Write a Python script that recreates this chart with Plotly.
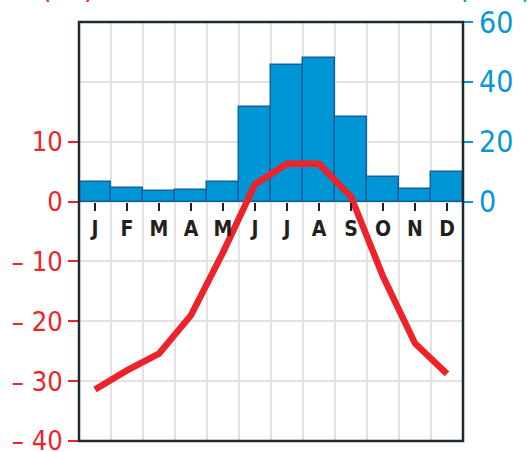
import plotly.graph_objects as go

months = ['J', 'F', 'M', 'A', 'M', 'J', 'J', 'A', 'S', 'O', 'N', 'D']
month_pos = list(range(1, 13))

# monthly precipitation (mm) and mean temperature (°C)
precip_mm = [6.5, 4.5, 3.6, 4.0, 6.4, 31.6, 45.6, 47.9, 28.2, 8.2, 4.2, 9.8]
temp_c = [-31.4, -28.2, -25.4, -19.0, -8.5, 2.9, 6.3, 6.3, 0.8, -12.5, -23.7, -28.8]

temp_ticks = [-40, -30, -20, -10, 0, 10]
temp_ticktext = ['– 40', '– 30', '– 20', '– 10', '0', '10']
precip_ticks = [0, 20, 40, 60]

RED = '#ee2229'
BLUE = '#0a96d8'
DARK = '#231f20'
GRID = '#e2e2e2'
FONT = 'DejaVu Sans Condensed, Liberation Sans Narrow, Arial Narrow, sans-serif'

T_MIN, T_MAX = -40, 30
P_MIN, P_MAX = -80, 60

fig = go.Figure()

# precipitation bars on the base (right-hand) axis
fig.add_trace(go.Bar(
    x=month_pos, y=precip_mm,
    width=1,
    marker=dict(color='#0096d6', line=dict(color='#13609f', width=1.5)),
    yaxis='y',
    showlegend=False,
))

# temperature line on the overlaying (left-hand) axis
fig.add_trace(go.Scatter(
    x=month_pos, y=temp_c,
    mode='lines',
    line=dict(color=RED, width=6.5),
    yaxis='y2',
    showlegend=False,
))

zero_pos = (0 - T_MIN) / (T_MAX - T_MIN)

fig.update_layout(
    width=531, height=452,
    margin=dict(l=79, r=68, t=22, b=11, autoexpand=False),
    paper_bgcolor='white',
    plot_bgcolor='white',
    bargap=0,
    font=dict(family=FONT),
    xaxis=dict(
        range=[0.5, 12.5],
        tickmode='array', tickvals=month_pos, ticktext=months,
        anchor='free', position=zero_pos,
        ticks='outside', ticklen=8, tickwidth=2, tickcolor=DARK,
        tickfont=dict(size=21, color=DARK, family=FONT, weight='bold'),
        showgrid=False, zeroline=False, showline=False,
        minor=dict(tickvals=[m + 0.5 for m in month_pos[:-1]],
                   showgrid=True, gridcolor=GRID, gridwidth=1.5, ticks=''),
    ),
    yaxis=dict(
        side='right',
        range=[P_MIN, P_MAX],
        tickmode='array', tickvals=precip_ticks,
        ticks='outside', ticklen=9, tickwidth=2, tickcolor=BLUE,
        tickfont=dict(size=30, color=BLUE, family=FONT),
        showgrid=True, gridcolor=GRID, gridwidth=1.5,
        zeroline=False, showline=False, automargin=False,
        ticklabeloverflow='allow',
    ),
    yaxis2=dict(
        overlaying='y', side='left',
        range=[T_MIN, T_MAX],
        tickmode='array', tickvals=temp_ticks, ticktext=temp_ticktext,
        ticks='outside', ticklen=10, tickwidth=2, tickcolor=RED,
        tickfont=dict(size=27, color=RED, family=FONT),
        showgrid=True, gridcolor=GRID, gridwidth=1.5,
        zeroline=False, showline=False, automargin=False,
        ticklabeloverflow='allow',
    ),
    shapes=[dict(
        type='rect', xref='paper', yref='paper',
        x0=0, x1=1, y0=0, y1=1,
        line=dict(color='#1e2b33', width=2.5),
        layer='above',
    )],
    annotations=[
        dict(text='(°C)', xref='paper', yref='paper', x=-0.029, y=1.036,
             xanchor='center', yanchor='bottom', showarrow=False,
             font=dict(size=30, color=RED, family=FONT)),
        dict(text='(mm)', xref='paper', yref='paper', x=1.083, y=1.036,
             xanchor='center', yanchor='bottom', showarrow=False,
             font=dict(size=30, color=BLUE, family=FONT)),
    ],
)

fig.write_html('out.html', config={'displayModeBar': False},
               post_script="document.body.style.margin='0';")
